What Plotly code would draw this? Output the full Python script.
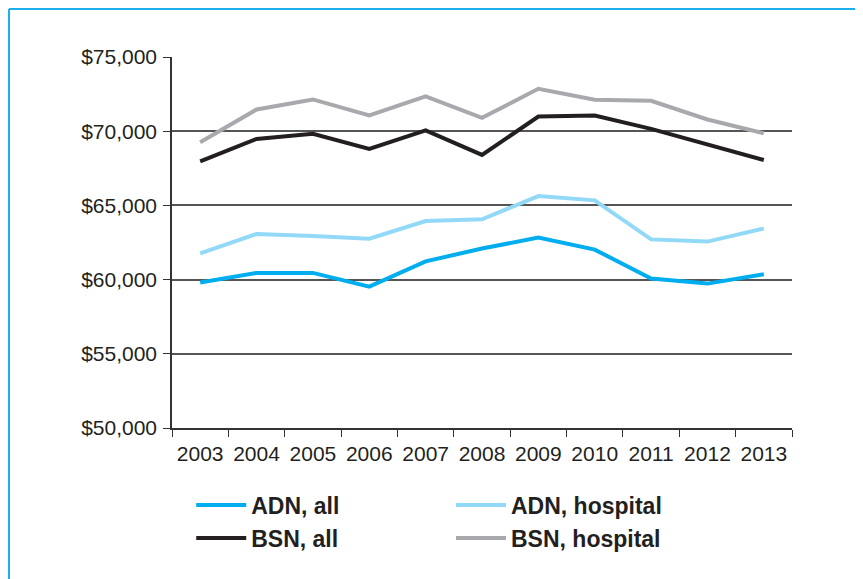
import plotly.graph_objects as go

years = ["2003", "2004", "2005", "2006", "2007", "2008", "2009", "2010", "2011", "2012", "2013"]

adn_all = [59800, 60450, 60450, 59530, 61230, 62090, 62830, 62020, 60070, 59730, 60360]
adn_hospital = [61770, 63070, 62940, 62760, 63950, 64060, 65630, 65340, 62710, 62560, 63450]
bsn_all = [67970, 69480, 69820, 68800, 70050, 68400, 70990, 71060, 70160, 69100, 68060]
bsn_hospital = [69257, 71460, 72140, 71060, 72340, 70900, 72860, 72120, 72050, 70790, 69860]

series = [
    ("ADN, all", adn_all, "#00AEEF", "legend"),
    ("BSN, all", bsn_all, "#231F20", "legend"),
    ("ADN, hospital", adn_hospital, "#92D9F8", "legend2"),
    ("BSN, hospital", bsn_hospital, "#A7A9AC", "legend2"),
]

fig = go.Figure()
for name, vals, color, leg in series:
    fig.add_trace(go.Scatter(
        x=years, y=vals, name=name, mode="lines",
        line=dict(color=color, width=4),
        legend=leg,
    ))

axis_color = "#333333"
grid_color = "#555555"
font_family = "Liberation Sans, Arial, sans-serif"

legend_style = dict(
    orientation="v",
    xanchor="left", yanchor="top",
    font=dict(family=font_family, size=23, color="#231F20", weight="bold"),
    bgcolor="rgba(0,0,0,0)",
    itemwidth=50,
    tracegroupgap=0,
)

# page body has an 8px margin: figure sits at (8, 8)
L, R, T, B = 164, 71, 49, 151
W, H = 855, 571
pw = W - L - R
ph = H - T - B

fig.update_layout(
    width=W, height=H,
    margin=dict(l=L, r=R, t=T, b=B),
    paper_bgcolor="white",
    plot_bgcolor="white",
    font=dict(family=font_family, size=21, color="#231F20"),
    showlegend=True,
    legend=dict(x=0.031, y=-0.15, **legend_style),
    legend2=dict(x=0.45, y=-0.15, **legend_style),
    xaxis=dict(
        type="category",
        range=[-0.5, 10.5],
        tickson="boundaries",
        ticks="outside", ticklen=7, tickwidth=1.2, tickcolor=axis_color,
        showline=True, linecolor=axis_color, linewidth=1.5,
        showgrid=False,
        tickfont=dict(size=21),
        ticklabelstandoff=6,
    ),
    yaxis=dict(
        range=[50000, 75000],
        dtick=5000,
        tickformat="$,",
        ticks="outside", ticklen=7, tickwidth=1.2, tickcolor=axis_color,
        showline=True, linecolor=axis_color, linewidth=1.5,
        showgrid=True, gridcolor=grid_color, gridwidth=1.5,
        zeroline=False,
        tickfont=dict(size=21),
        ticklabelstandoff=2,
    ),
    shapes=[
        dict(type="line", xref="paper", yref="paper",
             x0=(1 - L) / pw, x1=(W + 5 - L) / pw,
             y0=(T + ph - 1) / ph, y1=(T + ph - 1) / ph,
             line=dict(color="#1AB0EC", width=2)),
        dict(type="line", xref="paper", yref="paper",
             x0=(1 - L) / pw, x1=(1 - L) / pw,
             y0=(T + ph - 1) / ph, y1=-(B + 5) / ph,
             line=dict(color="#1AB0EC", width=2)),
    ],
)

fig.write_html("out.html")
